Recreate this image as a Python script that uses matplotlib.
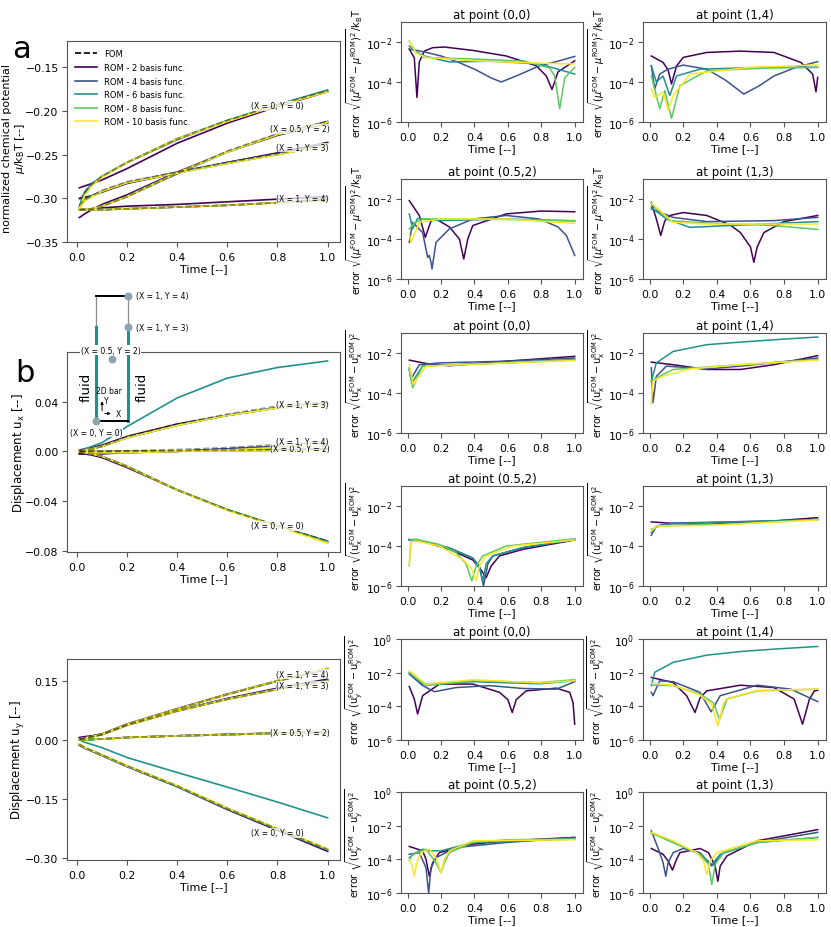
import numpy as np
import matplotlib
matplotlib.use("Agg")
import matplotlib.pyplot as plt
from matplotlib.lines import Line2D

# ---------------- data ----------------
rom_labels = ["ROM - 2 basis func.", "ROM - 4 basis func.", "ROM - 6 basis func.",
              "ROM - 8 basis func.", "ROM - 10 basis func."]
point_names = ["(X = 0, Y = 0)", "(X = 0.5, Y = 2)", "(X = 1, Y = 3)", "(X = 1, Y = 4)"]

# time grid of the solution curves (left column)
t_sol = [0.01, 0.03, 0.06, 0.1, 0.2, 0.4, 0.6, 0.8, 1.0]

# rows: FOM, ROM2, ROM4, ROM6, ROM8, ROM10
mu_00 = [[-0.302, -0.294, -0.284, -0.275, -0.259, -0.232, -0.211, -0.193, -0.177],
         [-0.288, -0.286, -0.283, -0.279, -0.266, -0.237, -0.214, -0.195, -0.178],
         [-0.310, -0.295, -0.284, -0.275, -0.259, -0.233, -0.211, -0.193, -0.177],
         [-0.309, -0.293, -0.283, -0.275, -0.259, -0.232, -0.211, -0.193, -0.176],
         [-0.313, -0.297, -0.285, -0.275, -0.259, -0.232, -0.211, -0.193, -0.178],
         [-0.313, -0.297, -0.285, -0.276, -0.259, -0.232, -0.212, -0.194, -0.178]]
mu_052 = [[-0.313, -0.313, -0.312, -0.309, -0.298, -0.271, -0.246, -0.226, -0.212],
          [-0.322, -0.318, -0.313, -0.307, -0.296, -0.270, -0.247, -0.228, -0.214],
          [-0.313, -0.313, -0.312, -0.309, -0.298, -0.272, -0.247, -0.227, -0.212],
          [-0.312, -0.313, -0.312, -0.309, -0.298, -0.271, -0.247, -0.227, -0.213],
          [-0.313, -0.313, -0.312, -0.309, -0.298, -0.271, -0.247, -0.227, -0.213],
          [-0.313, -0.313, -0.312, -0.309, -0.298, -0.271, -0.247, -0.227, -0.213]]
mu_13 = [[-0.308, -0.302, -0.297, -0.291, -0.281, -0.270, -0.259, -0.249, -0.238],
         [-0.300, -0.299, -0.297, -0.293, -0.283, -0.271, -0.259, -0.248, -0.236],
         [-0.310, -0.302, -0.297, -0.292, -0.282, -0.270, -0.259, -0.249, -0.237],
         [-0.310, -0.302, -0.297, -0.292, -0.282, -0.271, -0.260, -0.250, -0.239],
         [-0.311, -0.303, -0.298, -0.292, -0.282, -0.271, -0.260, -0.250, -0.239],
         [-0.311, -0.303, -0.298, -0.292, -0.282, -0.271, -0.260, -0.250, -0.239]]
mu_14 = [[-0.313, -0.313, -0.313, -0.313, -0.312, -0.310, -0.308, -0.305, -0.302],
         [-0.313, -0.313, -0.312, -0.311, -0.309, -0.307, -0.304, -0.301, -0.298],
         [-0.313, -0.313, -0.313, -0.313, -0.312, -0.310, -0.308, -0.305, -0.301],
         [-0.313, -0.313, -0.313, -0.313, -0.312, -0.310, -0.308, -0.305, -0.302],
         [-0.313, -0.313, -0.313, -0.313, -0.312, -0.310, -0.308, -0.305, -0.303],
         [-0.313, -0.313, -0.313, -0.313, -0.312, -0.310, -0.308, -0.305, -0.303]]

ux_00 = [[0.000, -0.001, -0.002, -0.004, -0.012, -0.031, -0.047, -0.060, -0.0720],
         [-0.002, -0.002, -0.003, -0.005, -0.013, -0.031, -0.047, -0.060, -0.0725],
         [0.000, -0.001, -0.002, -0.004, -0.012, -0.031, -0.047, -0.060, -0.0725],
         [0.000, -0.001, -0.002, -0.004, -0.012, -0.031, -0.047, -0.060, -0.0727],
         [0.000, -0.001, -0.002, -0.004, -0.012, -0.031, -0.047, -0.060, -0.0730],
         [0.000, -0.001, -0.002, -0.004, -0.012, -0.031, -0.0475, -0.0605, -0.0740]]
ux_052 = [[0.000, 0.000, 0.000, 0.000, 0.000, 0.0005, 0.0010, 0.0015, 0.0020],
          [0.000, 0.000, 0.000, 0.000, 0.000, 0.0003, 0.0006, 0.0010, 0.0015],
          [0.000, 0.000, 0.000, 0.000, 0.000, 0.0003, 0.0006, 0.0010, 0.0015],
          [0.000, 0.000, 0.000, 0.000, 0.000, 0.0003, 0.0006, 0.0010, 0.0015],
          [0.000, 0.000, 0.000, 0.000, 0.000, 0.0002, 0.0004, 0.0006, 0.0010],
          [0.000, 0.000, 0.000, 0.000, 0.000, 0.0002, 0.0004, 0.0005, 0.0008]]
ux_13 = [[0.000, 0.001, 0.002, 0.004, 0.012, 0.022, 0.030, 0.0365, 0.040],
         [0.001, 0.002, 0.003, 0.005, 0.012, 0.022, 0.029, 0.035, 0.039],
         [0.000, 0.001, 0.002, 0.004, 0.011, 0.021, 0.029, 0.035, 0.038],
         [0.000, 0.001, 0.002, 0.004, 0.011, 0.021, 0.029, 0.035, 0.038],
         [0.000, 0.001, 0.002, 0.004, 0.011, 0.021, 0.029, 0.035, 0.038],
         [0.000, 0.001, 0.002, 0.004, 0.011, 0.021, 0.029, 0.0348, 0.038]]
ux_14 = [[0.000, 0.000, 0.000, 0.000, 0.0005, 0.0015, 0.0030, 0.0055, 0.0075],
         [-0.002, -0.002, -0.002, -0.002, -0.001, 0.000, 0.002, 0.004, 0.006],
         [0.000, -0.001, -0.001, -0.001, -0.001, 0.000, 0.002, 0.004, 0.006],
         [0.000, 0.002, 0.004, 0.007, 0.020, 0.043, 0.059, 0.0675, 0.0728],
         [0.000, 0.000, -0.001, -0.001, -0.001, 0.000, 0.001, 0.003, 0.005],
         [0.000, 0.000, -0.001, -0.001, -0.001, 0.000, 0.001, 0.003, 0.005]]

uy_00 = [[-0.011, -0.019, -0.027, -0.038, -0.066, -0.117, -0.174, -0.226, -0.278],
         [-0.014, -0.021, -0.029, -0.040, -0.068, -0.119, -0.177, -0.230, -0.283],
         [-0.012, -0.020, -0.028, -0.039, -0.067, -0.118, -0.175, -0.228, -0.280],
         [-0.012, -0.020, -0.028, -0.039, -0.067, -0.118, -0.175, -0.227, -0.279],
         [-0.012, -0.019, -0.027, -0.038, -0.066, -0.117, -0.174, -0.226, -0.278],
         [-0.011, -0.019, -0.027, -0.038, -0.066, -0.116, -0.173, -0.225, -0.277]]
uy_052 = [[0.000, 0.000, 0.001, 0.002, 0.006, 0.010, 0.013, 0.017, 0.019],
          [-0.001, 0.000, 0.001, 0.002, 0.006, 0.010, 0.014, 0.017, 0.020],
          [0.000, 0.000, 0.001, 0.002, 0.006, 0.010, 0.013, 0.017, 0.019],
          [0.000, 0.000, 0.001, 0.002, 0.006, 0.010, 0.013, 0.017, 0.019],
          [0.000, 0.000, 0.001, 0.002, 0.006, 0.010, 0.013, 0.017, 0.019],
          [0.000, 0.000, 0.001, 0.002, 0.006, 0.010, 0.013, 0.017, 0.019]]
uy_13 = [[0.002, 0.004, 0.008, 0.013, 0.037, 0.073, 0.103, 0.128, 0.149],
         [0.004, 0.006, 0.009, 0.014, 0.038, 0.074, 0.105, 0.131, 0.154],
         [0.003, 0.004, 0.008, 0.013, 0.037, 0.073, 0.103, 0.129, 0.151],
         [0.002, 0.004, 0.008, 0.013, 0.037, 0.073, 0.103, 0.128, 0.150],
         [0.002, 0.004, 0.008, 0.013, 0.037, 0.073, 0.103, 0.128, 0.150],
         [0.002, 0.004, 0.008, 0.013, 0.037, 0.073, 0.103, 0.128, 0.148]]
uy_14 = [[0.002, 0.004, 0.008, 0.014, 0.039, 0.078, 0.115, 0.149, 0.180],
         [0.006, 0.008, 0.010, 0.015, 0.040, 0.079, 0.116, 0.150, 0.180],
         [0.002, 0.004, 0.008, 0.014, 0.039, 0.078, 0.115, 0.149, 0.180],
         [0.000, -0.006, -0.012, -0.020, -0.045, -0.083, -0.120, -0.158, -0.198],
         [0.002, 0.004, 0.008, 0.014, 0.039, 0.078, 0.115, 0.149, 0.181],
         [0.002, 0.004, 0.008, 0.014, 0.039, 0.078, 0.115, 0.150, 0.182]]

# error curves: one list of (time, error) per ROM (2, 4, 6, 8, 10 basis func.)
err_mu_00 = [
    [(0.01, 4.4e-3), (0.04, 1.6e-3), (0.056, 1.7e-5), (0.07, 1e-3), (0.1, 3.5e-3), (0.15, 5.2e-3),
     (0.22, 5.6e-3), (0.39, 3.8e-3), (0.59, 2e-3), (0.77, 6.5e-4), (0.83, 2e-4), (0.864, 4.2e-5),
     (0.9, 3.2e-4), (1.0, 1.15e-3)],
    [(0.01, 4.4e-3), (0.1, 3.2e-3), (0.2, 2e-3), (0.3, 1e-3), (0.4, 4.4e-4), (0.5, 1.6e-4),
     (0.56, 1e-4), (0.65, 2e-4), (0.79, 6.5e-4), (0.9, 1.1e-3), (1.0, 1.9e-3)],
    [(0.01, 6.3e-3), (0.05, 3.2e-3), (0.1, 2e-3), (0.25, 1e-3), (0.5, 1.1e-3), (0.79, 8e-4), (1.0, 2.5e-4)],
    [(0.01, 1.1e-2), (0.05, 3.2e-3), (0.1, 1.7e-3), (0.4, 1.4e-3), (0.7, 1.1e-3), (0.85, 5e-4),
     (0.88, 2e-4), (0.91, 4.6e-6), (0.94, 1.6e-4), (1.0, 5.4e-4)],
    [(0.01, 1.1e-2), (0.05, 2.8e-3), (0.11, 1.7e-3), (0.4, 1.15e-3), (0.8, 8.7e-4), (1.0, 8e-4)]]
err_mu_14 = [
    [(0.01, 2e-3), (0.08, 9.5e-4), (0.11, 4e-4), (0.13, 8e-5), (0.16, 6.3e-4), (0.2, 1.7e-3),
     (0.34, 3e-3), (0.54, 3.5e-3), (0.74, 3e-3), (0.9, 9.5e-4), (0.97, 2.5e-4), (0.99, 3.2e-5),
     (1.0, 1.7e-4)],
    [(0.01, 6.5e-4), (0.03, 4.5e-5), (0.06, 2.5e-4), (0.11, 4.4e-4), (0.2, 7e-4), (0.34, 4.4e-4),
     (0.45, 1.26e-4), (0.56, 2.5e-5), (0.65, 6.3e-5), (0.74, 2e-4), (0.86, 5e-4), (1.0, 1.05e-3)],
    [(0.01, 6.5e-4), (0.04, 1e-4), (0.08, 2e-4), (0.12, 2.1e-5), (0.16, 2e-4), (0.3, 4.4e-4),
     (0.7, 5.4e-4), (1.0, 5.4e-4)],
    [(0.01, 2e-4), (0.06, 4.6e-6), (0.09, 3.7e-5), (0.13, 1.5e-6), (0.18, 6.6e-5), (0.34, 3.6e-4),
     (0.7, 5e-4), (1.0, 5.4e-4)],
    [(0.01, 4.5e-5), (0.03, 1.7e-5), (0.08, 3.1e-5), (0.11, 3.8e-6), (0.14, 2.1e-5), (0.24, 2.5e-4),
     (0.6, 5.4e-4), (1.0, 7.2e-4)]]
err_mu_052 = [
    [(0.01, 8.3e-3), (0.07, 1.5e-3), (0.106, 1.2e-4), (0.14, 8e-4), (0.17, 1e-3), (0.25, 4e-4),
     (0.31, 1e-4), (0.336, 1e-5), (0.36, 1e-4), (0.39, 4.7e-4), (0.59, 1.8e-3), (0.8, 2.5e-3),
     (1.0, 2.3e-3)],
    [(0.01, 6.8e-5), (0.03, 6.8e-4), (0.09, 2.1e-4), (0.12, 1.2e-5), (0.13, 1.5e-5), (0.14, 6.8e-6),
     (0.146, 3.2e-6), (0.17, 6.8e-5), (0.25, 3.2e-4), (0.39, 1e-3), (0.59, 1.5e-3), (0.79, 1e-3),
     (0.9, 4e-4), (0.95, 1.5e-4), (1.0, 1.5e-5)],
    [(0.01, 1.8e-3), (0.03, 3.2e-4), (0.06, 1.07e-3), (0.2, 8.3e-4), (0.6, 1e-3), (1.0, 8e-4)],
    [(0.01, 3.2e-4), (0.04, 6.3e-4), (0.09, 1e-3), (0.4, 1e-3), (1.0, 8.3e-4)],
    [(0.01, 1.8e-4), (0.02, 6.8e-5), (0.07, 6.8e-4), (0.19, 1e-3), (0.6, 1e-3), (1.0, 6e-4)]]
err_mu_13 = [
    [(0.01, 6.8e-3), (0.04, 1e-3), (0.066, 1.5e-4), (0.09, 8e-4), (0.12, 1.5e-3), (0.2, 2.1e-3),
     (0.34, 1.5e-3), (0.48, 5e-4), (0.54, 2.1e-4), (0.6, 4e-5), (0.62, 6.8e-6), (0.64, 4e-5),
     (0.68, 2.1e-4), (0.8, 7.4e-4), (1.0, 1.5e-3)],
    [(0.01, 3.2e-3), (0.14, 1.2e-3), (0.34, 7.4e-4), (0.74, 8.3e-4), (1.0, 1.2e-3)],
    [(0.01, 3.8e-3), (0.1, 1e-3), (0.24, 3.8e-4), (0.54, 5e-4), (1.0, 7.4e-4)],
    [(0.01, 5.6e-3), (0.12, 8.3e-4), (0.34, 6.3e-4), (0.74, 4.7e-4), (1.0, 3e-4)],
    [(0.01, 6.3e-3), (0.14, 6.8e-4), (0.34, 5.6e-4), (1.0, 5.6e-4)]]

err_ux_00 = [
    [(0.01, 4.4e-3), (0.11, 3e-3), (0.25, 2.3e-3), (0.59, 3.9e-3), (1.0, 6.8e-3)],
    [(0.01, 1.5e-3), (0.02, 4.8e-4), (0.07, 2.6e-3), (0.19, 3.2e-3), (0.59, 3.9e-3), (1.0, 5.6e-3)],
    [(0.01, 1.8e-3), (0.026, 3.2e-4), (0.09, 2.3e-3), (0.59, 3.2e-3), (1.0, 4.7e-3)],
    [(0.01, 1.5e-3), (0.03, 1.8e-4), (0.09, 2.2e-3), (0.6, 3.2e-3), (1.0, 4.4e-3)],
    [(0.01, 2.6e-3), (0.034, 2.7e-4), (0.11, 2.2e-3), (0.59, 3.2e-3), (1.0, 4.2e-3)]]
err_ux_14 = [
    [(0.01, 3.5e-3), (0.14, 2.6e-3), (0.34, 1.5e-3), (0.54, 1.5e-3), (0.74, 2.6e-3), (1.0, 7.4e-3)],
    [(0.01, 1.8e-3), (0.02, 3.3e-5), (0.04, 6.9e-4), (0.1, 2.2e-3), (0.34, 1.6e-3), (0.54, 2.2e-3),
     (1.0, 5.6e-3)],
    [(0.01, 4e-4), (0.04, 3.2e-3), (0.14, 1.2e-2), (0.34, 2.6e-2), (0.54, 3.5e-2), (0.74, 4.6e-2),
     (1.0, 6.3e-2)],
    [(0.01, 4e-4), (0.06, 6.9e-4), (0.14, 1.5e-3), (0.54, 2.6e-3), (1.0, 4.7e-3)],
    [(0.01, 2.8e-5), (0.02, 4e-4), (0.08, 6.9e-4), (0.24, 1.6e-3), (0.54, 2.6e-3), (1.0, 4.4e-3)]]
err_ux_052 = [
    [(0.01, 2.1e-4), (0.11, 1.5e-4), (0.25, 6.8e-5), (0.39, 2e-5), (0.44, 6.3e-6), (0.47, 2.6e-6),
     (0.5, 1e-5), (0.55, 3.2e-5), (0.69, 6.8e-5), (1.0, 2e-4)],
    [(0.01, 2.1e-4), (0.1, 1.6e-4), (0.25, 8e-5), (0.39, 2.5e-5), (0.43, 1e-5), (0.454, 1e-6),
     (0.48, 1.26e-5), (0.51, 3.2e-5), (0.69, 8.3e-5), (1.0, 2.1e-4)],
    [(0.01, 2e-4), (0.1, 1.6e-4), (0.25, 8e-5), (0.39, 2.5e-5), (0.43, 8e-6), (0.45, 1.8e-6),
     (0.47, 1.3e-5), (0.51, 3.2e-5), (0.69, 8.3e-5), (1.0, 2.1e-4)],
    [(0.01, 1.07e-5), (0.02, 2.1e-4), (0.05, 2.2e-4), (0.19, 1.2e-4), (0.29, 4.7e-5), (0.35, 1.26e-5),
     (0.384, 1.8e-6), (0.41, 1e-5), (0.45, 3.2e-5), (0.59, 1e-4), (1.0, 2.3e-4)],
    [(0.01, 1.2e-5), (0.02, 1.6e-4), (0.05, 1.8e-4), (0.19, 1e-4), (0.33, 2.1e-5), (0.38, 8e-6),
     (0.41, 1.9e-6), (0.43, 1e-5), (0.47, 3.2e-5), (0.63, 1e-4), (1.0, 2e-4)]]
err_ux_13 = [
    [(0.01, 1.6e-3), (0.14, 1.35e-3), (0.34, 1.2e-3), (0.74, 1.8e-3), (1.0, 2.6e-3)],
    [(0.01, 3.4e-4), (0.04, 1e-3), (0.14, 1.4e-3), (0.74, 1.8e-3), (1.0, 2.1e-3)],
    [(0.01, 4.7e-4), (0.04, 1e-3), (0.14, 1.3e-3), (1.0, 2.1e-3)],
    [(0.01, 6.8e-4), (0.06, 1e-3), (0.5, 1.26e-3), (1.0, 2.1e-3)],
    [(0.01, 5.6e-4), (0.04, 1e-3), (0.34, 1.07e-3), (1.0, 2e-3)]]

err_uy_00 = [
    [(0.01, 1.5e-3), (0.04, 2.7e-4), (0.06, 3.5e-5), (0.09, 4.3e-4), (0.19, 2.1e-3), (0.39, 2.1e-3),
     (0.55, 6.8e-4), (0.6, 2.5e-4), (0.626, 4.3e-5), (0.65, 2.5e-4), (0.71, 8.3e-4), (0.89, 1.2e-3),
     (0.97, 6.8e-4), (0.99, 1.6e-4), (1.0, 8.7e-6)],
    [(0.01, 8.3e-3), (0.09, 1.7e-3), (0.16, 7.4e-4), (0.29, 1.3e-3), (0.49, 1.7e-3), (0.69, 1.15e-3),
     (0.89, 1.05e-3), (1.0, 2.9e-3)],
    [(0.01, 1e-2), (0.09, 2.1e-3), (0.39, 2.9e-3), (0.79, 2.2e-3), (1.0, 3.3e-3)],
    [(0.01, 1.05e-2), (0.11, 1.7e-3), (0.39, 3.3e-3), (0.79, 2.6e-3), (1.0, 3.8e-3)],
    [(0.01, 1.3e-2), (0.11, 2.1e-3), (0.39, 3.8e-3), (0.79, 2.5e-3), (1.0, 3.3e-3)]]
err_uy_14 = [
    [(0.01, 5.2e-3), (0.14, 2.6e-3), (0.22, 4.3e-4), (0.27, 4.3e-5), (0.3, 3.2e-4), (0.34, 8.3e-4),
     (0.54, 1.8e-3), (0.74, 1.3e-3), (0.86, 2.7e-4), (0.91, 8.7e-6), (0.95, 2.5e-4), (0.98, 8.3e-4),
     (1.0, 8.9e-4)],
    [(0.01, 6.8e-4), (0.02, 4.3e-4), (0.06, 3.3e-3), (0.14, 2.9e-3), (0.3, 6.8e-4), (0.366, 4.7e-5),
     (0.42, 4.3e-4), (0.64, 1.8e-3), (0.84, 1.05e-3), (1.0, 1.9e-4)],
    [(0.01, 1.7e-3), (0.03, 1.05e-2), (0.14, 4.1e-2), (0.34, 0.11), (0.54, 0.18), (0.74, 0.25),
     (1.0, 0.36)],
    [(0.01, 1.8e-3), (0.14, 1.7e-3), (0.3, 5.4e-4), (0.38, 1.6e-4), (0.416, 1.7e-5), (0.46, 2.7e-4),
     (0.64, 8.3e-4), (1.0, 1.05e-3)],
    [(0.01, 2.4e-3), (0.14, 1.8e-3), (0.3, 4.7e-4), (0.37, 1.26e-4), (0.406, 6.9e-6), (0.44, 1.6e-4),
     (0.46, 2.8e-4), (0.64, 8.9e-4), (1.0, 1.05e-3)]]
err_uy_052 = [
    [(0.01, 5.8e-4), (0.09, 3.2e-4), (0.11, 1e-4), (0.13, 1e-5), (0.15, 6.3e-5), (0.19, 2.5e-4),
     (0.39, 8e-4), (0.59, 1.26e-3), (1.0, 2e-3)],
    [(0.01, 2e-4), (0.07, 2.5e-4), (0.11, 3.2e-5), (0.126, 1e-6), (0.14, 3.2e-5), (0.17, 1.26e-4),
     (0.29, 5e-4), (0.59, 1e-3), (1.0, 2e-3)],
    [(0.01, 1.26e-4), (0.05, 2.5e-4), (0.09, 4e-4), (0.12, 3.2e-4), (0.2, 3.2e-4), (0.39, 1e-3),
     (1.0, 1.6e-3)],
    [(0.01, 9e-5), (0.03, 2e-4), (0.11, 4e-4), (0.17, 6.3e-5), (0.2, 1.6e-5), (0.22, 6.3e-5),
     (0.25, 2.5e-4), (0.39, 1e-3), (0.59, 1.45e-3), (1.0, 1.6e-3)],
    [(0.01, 1e-4), (0.03, 3.2e-5), (0.04, 1e-5), (0.055, 6.3e-5), (0.08, 2.5e-4), (0.13, 4e-4),
     (0.17, 1.26e-4), (0.2, 1.6e-5), (0.22, 1e-4), (0.25, 3.2e-4), (0.39, 1.26e-3), (1.0, 1.45e-3)]]
err_uy_13 = [
    [(0.01, 4.4e-4), (0.08, 2e-4), (0.11, 8e-5), (0.136, 2.3e-5), (0.16, 1e-4), (0.18, 2.5e-4),
     (0.3, 4.4e-4), (0.35, 2.5e-4), (0.39, 4e-5), (0.406, 5e-6), (0.42, 4e-5), (0.46, 1.6e-4),
     (0.64, 1.26e-3), (1.0, 5.8e-3)],
    [(0.01, 5e-3), (0.06, 2.5e-4), (0.08, 6.3e-5), (0.096, 1e-5), (0.11, 6.3e-5), (0.14, 2.5e-4),
     (0.2, 4.4e-4), (0.3, 2.5e-4), (0.37, 4e-5), (0.44, 2.5e-4), (0.64, 1e-3), (1.0, 4e-3)],
    [(0.01, 4e-3), (0.14, 1e-3), (0.3, 2e-4), (0.37, 5e-5), (0.42, 2e-4), (0.64, 1e-3), (1.0, 2e-3)],
    [(0.01, 3.6e-3), (0.14, 1e-3), (0.3, 2e-4), (0.35, 5e-5), (0.37, 3.2e-6), (0.39, 5e-5),
     (0.44, 2.5e-4), (0.64, 1e-3), (1.0, 2e-3)],
    [(0.01, 4e-3), (0.14, 1.26e-3), (0.28, 2.5e-4), (0.32, 8e-5), (0.34, 1.26e-5), (0.36, 8e-5),
     (0.4, 2.5e-4), (0.64, 1.26e-3), (1.0, 1.45e-3)]]

# ---------------- style ----------------
plt.rcParams["axes.edgecolor"] = "#555555"
plt.rcParams["xtick.color"] = "#555555"
plt.rcParams["ytick.color"] = "#555555"
plt.rcParams["xtick.labelcolor"] = "black"
plt.rcParams["ytick.labelcolor"] = "black"
plt.rcParams["xtick.labelsize"] = 7.8
plt.rcParams["ytick.labelsize"] = 7.8
plt.rcParams["ytick.major.pad"] = 2.5

colors = plt.cm.viridis(np.linspace(0, 1, 5))
W, H = 831, 928


def px_axes(fig, x0, y0, x1, y1):
    # axes from pixel box (top-left origin)
    return fig.add_axes([x0 / W, 1 - y1 / H, (x1 - x0) / W, (y1 - y0) / H])


def draw_solution(ax, curves, label_pos):
    for k in range(1, 6):
        for pt in curves:
            ax.plot(t_sol, pt[k], color=colors[k - 1], lw=1.2)
    for pt in curves:
        ax.plot(t_sol, pt[0], color="k", ls="--", lw=1.2, alpha=0.4)
    for name, (tx, ty) in zip(point_names, label_pos):
        ax.text(tx, ty, name, fontsize=5.5, ha="center", va="center",
                bbox=dict(boxstyle="square,pad=0.05", fc="white", ec="none", alpha=0.75))
    ax.set_xticks([0.0, 0.2, 0.4, 0.6, 0.8, 1.0])
    ax.set_xlabel("Time [--]", fontsize=8, labelpad=1)


def draw_error(ax, curves, title, ylabel, ytop):
    for pts, c in zip(curves, colors):
        t, v = zip(*pts)
        ax.plot(t, v, color=c, lw=1.1)
    ax.set_yscale("log")
    ax.set_ylim(1e-6, ytop)
    ticks = [1e-6, 1e-4, 1e-2] if ytop < 1 else [1e-6, 1e-4, 1e-2, 1e0]
    ax.set_yticks(ticks)
    ax.yaxis.set_minor_locator(matplotlib.ticker.NullLocator())
    ax.set_xticks([0.0, 0.2, 0.4, 0.6, 0.8, 1.0])
    ax.set_title(title, fontsize=8.5, pad=3)
    ax.set_xlabel("Time [--]", fontsize=8, labelpad=1)
    ax.set_ylabel(ylabel, fontsize=7, labelpad=1)


fig = plt.figure(figsize=(W / 100, H / 100), dpi=100)

# ---------------- left column ----------------
ax_a = px_axes(fig, 67, 42, 340, 243)
draw_solution(ax_a, [mu_00, mu_052, mu_13, mu_14],
              [(0.80, -0.194), (0.89, -0.2205), (0.90, -0.242), (0.90, -0.3005)])
ax_a.set_ylim(-0.35, -0.12)
ax_a.set_yticks([-0.35, -0.30, -0.25, -0.20, -0.15])
ax_a.set_ylabel("normalized chemical potential\n$\\mu/\\mathrm{k_BT}$ [--]", fontsize=8,
                linespacing=1.05)
ax_a.yaxis.set_label_coords(-0.148, 0.47)
handles = [Line2D([], [], color="k", ls="--", lw=1.2)] + \
          [Line2D([], [], color=c, lw=1.2) for c in colors]
ax_a.legend(handles, ["FOM"] + rom_labels, loc="upper left", frameon=False, fontsize=6,
            handlelength=2.6, labelspacing=0.55, borderaxespad=0.6)

ax_b = px_axes(fig, 67, 353, 340, 553)
draw_solution(ax_b, [ux_00, ux_052, ux_13, ux_14],
              [(0.80, -0.060), (0.89, 0.002), (0.90, 0.038), (0.90, 0.008)])
ax_b.set_ylim(-0.081, 0.08)
ax_b.set_yticks([-0.08, -0.04, 0.0, 0.04])
ax_b.set_ylabel("Displacement $\\mathrm{u_x}$ [--]", fontsize=8.5)
ax_b.yaxis.set_label_coords(-0.145, 0.5)

ax_c = px_axes(fig, 67, 660, 340, 861)
draw_solution(ax_c, [uy_00, uy_052, uy_13, uy_14],
              [(0.80, -0.236), (0.89, 0.0185), (0.90, 0.138), (0.90, 0.166)])
ax_c.set_ylim(-0.305, 0.205)
ax_c.set_yticks([-0.30, -0.15, 0.0, 0.15])
ax_c.set_ylabel("Displacement $\\mathrm{u_y}$ [--]", fontsize=8.5)
ax_c.yaxis.set_label_coords(-0.145, 0.5)

fig.text(22 / W, 1 - 50 / H, "a", fontsize=22, ha="center", va="center")
fig.text(25 / W, 1 - 373 / H, "b", fontsize=22, ha="center", va="center")

# ---------------- right columns ----------------
cols = [(401, 583), (643, 826)]
rows = [(23, 123), (180, 280), (334, 434), (487, 587), (640, 741), (793, 894)]
lab_mu = "error $\\sqrt{(\\mu^{\\mathrm{FOM}}-\\mu^{\\mathrm{ROM}})^2}/\\mathrm{k_BT}$"
lab_ux = "error $\\sqrt{(\\mathrm{u_x^{FOM}}-\\mathrm{u_x^{ROM}})^2}$"
lab_uy = "error $\\sqrt{(\\mathrm{u_y^{FOM}}-\\mathrm{u_y^{ROM}})^2}$"

panels = [
    (0, 0, err_mu_00, "at point (0,0)", lab_mu, 1e-1),
    (0, 1, err_mu_14, "at point (1,4)", lab_mu, 1e-1),
    (1, 0, err_mu_052, "at point (0.5,2)", lab_mu, 1e-1),
    (1, 1, err_mu_13, "at point (1,3)", lab_mu, 1e-1),
    (2, 0, err_ux_00, "at point (0,0)", lab_ux, 1e-1),
    (2, 1, err_ux_14, "at point (1,4)", lab_ux, 1e-1),
    (3, 0, err_ux_052, "at point (0.5,2)", lab_ux, 1e-1),
    (3, 1, err_ux_13, "at point (1,3)", lab_ux, 1e-1),
    (4, 0, err_uy_00, "at point (0,0)", lab_uy, 1.0),
    (4, 1, err_uy_14, "at point (1,4)", lab_uy, 1.0),
    (5, 0, err_uy_052, "at point (0.5,2)", lab_uy, 1.0),
    (5, 1, err_uy_13, "at point (1,3)", lab_uy, 1.0),
]
for r, c, data, title, ylab, ytop in panels:
    ax = px_axes(fig, cols[c][0], rows[r][0], cols[c][1], rows[r][1])
    draw_error(ax, data, title, ylab, ytop)

# ---------------- schematic of the 2D bar ----------------
ax_in = px_axes(fig, 96, 297, 128, 422)
ax_in.set_zorder(10)
ax_in.set_xlim(0, 1)
ax_in.set_ylim(0, 4)
ax_in.axis("off")
teal = colors[2]
ax_in.plot([0, 0], [3, 4], color="0.55", lw=0.9, clip_on=False)
ax_in.plot([1, 1], [3, 4], color="0.55", lw=0.9, clip_on=False)
ax_in.plot([0, 0], [0, 3], color=teal, lw=2.2, clip_on=False)
ax_in.plot([1, 1], [0, 3], color=teal, lw=2.2, clip_on=False)
ax_in.plot([0, 1], [4, 4], color="k", lw=1.4, clip_on=False)
ax_in.plot([0, 1], [0, 0], color="k", lw=1.4, clip_on=False)
pts_x = [0, 0.5, 1, 1]
pts_y = [0, 2, 3, 4]
ax_in.scatter(pts_x, pts_y, s=22, color="#8fa3ad", zorder=5, clip_on=False)
kw = dict(fontsize=5.5, clip_on=False, zorder=6)
ax_in.annotate(point_names[3], (1, 4), xytext=(6, 0), textcoords="offset points", va="center", **kw)
ax_in.annotate(point_names[2], (1, 3), xytext=(6, 0), textcoords="offset points", va="center", **kw)
ax_in.annotate(point_names[1], (0.5, 2), xytext=(-1, 6), textcoords="offset points",
               ha="center", va="center",
               bbox=dict(boxstyle="square,pad=0.1", fc="white", ec="none"), **kw)
ax_in.annotate(point_names[0], (0, 0), xytext=(0, -8), textcoords="offset points",
               ha="center", va="center",
               bbox=dict(boxstyle="square,pad=0.1", fc="white", ec="none", alpha=0.8), **kw)
ax_in.text(-0.3, 1.12, "fluid", rotation=90, fontsize=9.5, ha="center", va="center", clip_on=False)
ax_in.text(1.45, 1.1, "fluid", rotation=90, fontsize=9.5, ha="center", va="center", clip_on=False)
ax_in.text(0.4, 0.98, "2D bar", fontsize=5.5, ha="center", va="center")
ax_in.annotate("", xy=(0.19, 0.72), xytext=(0.19, 0.24),
               arrowprops=dict(arrowstyle="-|>", lw=0.7, color="k", mutation_scale=4))
ax_in.annotate("", xy=(0.55, 0.24), xytext=(0.19, 0.24),
               arrowprops=dict(arrowstyle="-|>", lw=0.7, color="k", mutation_scale=4))
ax_in.text(0.31, 0.64, "Y", fontsize=5.5, ha="center", va="center")
ax_in.text(0.69, 0.24, "X", fontsize=5.5, ha="center", va="center")

fig.savefig("out.png", dpi=100)
